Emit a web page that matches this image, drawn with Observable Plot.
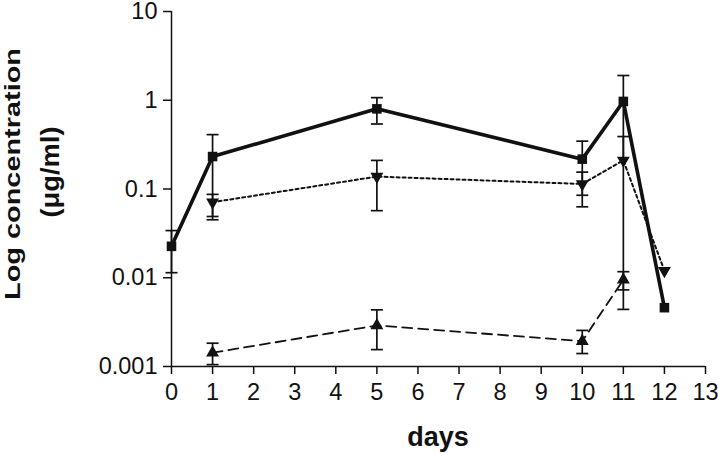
<!DOCTYPE html>
<html>
<head>
<meta charset="utf-8">
<script src="https://cdn.jsdelivr.net/npm/d3@7"></script>
<script src="https://cdn.jsdelivr.net/npm/@observablehq/plot@0.6"></script>
<style>
  html, body { margin: 0; padding: 0; background: #fff; }
  svg { display: block; }
</style>
</head>
<body>
<div id="chart"></div>
<script>
// ---- data ----
const xTicks = [0, 1, 2, 3, 4, 5, 6, 7, 8, 9, 10, 11, 12, 13];
const yTicks = [0.001, 0.01, 0.1, 1, 10];
const yTickLabels = ["0.001", "0.01", "0.1", "1", "10"];

// Series A: squares, thick solid line
const sqDays = [0, 1, 5, 10, 11, 12];
const sqMean = [0.0226, 0.232, 0.80, 0.217, 0.97, 0.0046];
const sqLo   = [0.0114, 0.049, 0.54, 0.085, 0.0044, null];
const sqHi   = [0.034, 0.41, 1.07, 0.346, 1.9, null];

// Series B: inverted triangles, dotted line
const tdDays = [1, 5, 10, 11, 12];
const tdMean = [0.071, 0.138, 0.114, 0.21, 0.012];
const tdLo   = [0.045, 0.057, 0.063, null, null];
const tdHi   = [0.087, 0.21, 0.155, 0.39, null];

// Series C: triangles, dashed line
const tuDays = [1, 5, 10, 11];
const tuMean = [0.00143, 0.0029, 0.00193, 0.0095];
const tuLo   = [0.00105, 0.00155, 0.0014, 0.0073];
const tuHi   = [0.00183, 0.00435, 0.00255, 0.0117];

// ---- build tables ----
function rows(days, mean, lo, hi) {
  return days.map((d, i) => ({x: d, y: mean[i], lo: lo[i], hi: hi[i]}));
}
const sq = rows(sqDays, sqMean, sqLo, sqHi);
const td = rows(tdDays, tdMean, tdLo, tdHi);
const tu = rows(tuDays, tuMean, tuLo, tuHi);
const all = [...sq, ...td, ...tu];

const errBars = all.filter(d => d.lo != null || d.hi != null)
  .map(d => ({x: d.x, y1: d.lo != null ? d.lo : d.y, y2: d.hi != null ? d.hi : d.y}));
const caps = [];
all.forEach(d => {
  if (d.lo != null) caps.push({x: d.x, y: d.lo});
  if (d.hi != null) caps.push({x: d.x, y: d.hi});
});

const capSymbol = {
  draw(ctx) { ctx.moveTo(-6, 0); ctx.lineTo(6, 0); }
};

const ink = "#111";
const font = "'Liberation Sans', Arial, sans-serif";

const svg = Plot.plot({
  width: 719,
  height: 454,
  marginLeft: 171,
  marginRight: 14,
  marginTop: 11,
  marginBottom: 88,
  style: {fontFamily: font, fontSize: "23px", color: ink, background: "#fff"},
  x: {domain: [0, 13]},
  y: {type: "log", domain: [0.001, 10]},
  marks: [
    Plot.axisY({ticks: yTicks, tickFormat: d => yTickLabels[yTicks.indexOf(d)], tickSize: 8, tickPadding: 6,
                label: null, fontSize: 23.5, strokeWidth: 1.5}),
    Plot.axisX({ticks: xTicks, tickFormat: d => String(d), tickSize: 8, tickPadding: 9,
                label: null, fontSize: 23.5, strokeWidth: 1.5}),
    Plot.ruleX([0], {y1: 0.001, y2: 10, stroke: ink, strokeWidth: 1.5}),
    Plot.ruleY([0.001], {x1: 0, x2: 13, stroke: ink, strokeWidth: 1.5}),

    // error bars
    Plot.ruleX(errBars, {x: "x", y1: "y1", y2: "y2", stroke: ink, strokeWidth: 1.7}),
    Plot.dot(caps, {x: "x", y: "y", symbol: capSymbol, r: 3, stroke: ink, fill: "none", strokeWidth: 1.7}),

    // lines
    Plot.line(tu, {x: "x", y: "y", stroke: ink, strokeWidth: 1.8, strokeDasharray: "10,6"}),
    Plot.line(td, {x: "x", y: "y", stroke: ink, strokeWidth: 2, strokeDasharray: "3,3"}),
    Plot.line(sq, {x: "x", y: "y", stroke: ink, strokeWidth: 3.6}),

    // markers
    Plot.dot(tu, {x: "x", y: "y", symbol: "triangle", r: 4.8, fill: ink, stroke: "none"}),
    Plot.dot(td, {x: "x", y: "y", symbol: "triangle", rotate: 180, r: 4.8, fill: ink, stroke: "none"}),
    Plot.dot(sq, {x: "x", y: "y", symbol: "square", r: 5.4, fill: ink, stroke: "none"})
  ]
});

const s = d3.select(svg);
// y-axis title (two lines, rotated)
s.append("text")
  .attr("transform", "translate(20,174) rotate(-90)")
  .attr("text-anchor", "middle")
  .attr("font-family", font)
  .attr("font-weight", "bold")
  .attr("font-size", 22)
  .attr("fill", ink)
  .attr("textLength", 252)
  .attr("lengthAdjust", "spacingAndGlyphs")
  .text("Log concentration");
s.append("text")
  .attr("transform", "translate(59,172) rotate(-90)")
  .attr("text-anchor", "middle")
  .attr("font-family", font)
  .attr("font-weight", "bold")
  .attr("font-size", 25)
  .attr("fill", ink)
  .attr("textLength", 91)
  .attr("lengthAdjust", "spacingAndGlyphs")
  .text("(μg/ml)");
// x-axis title
s.append("text")
  .attr("x", 438)
  .attr("y", 446)
  .attr("text-anchor", "middle")
  .attr("font-family", font)
  .attr("font-weight", "bold")
  .attr("font-size", 27)
  .attr("fill", ink)
  .text("days");

document.getElementById("chart").appendChild(svg);
</script>
</body>
</html>
